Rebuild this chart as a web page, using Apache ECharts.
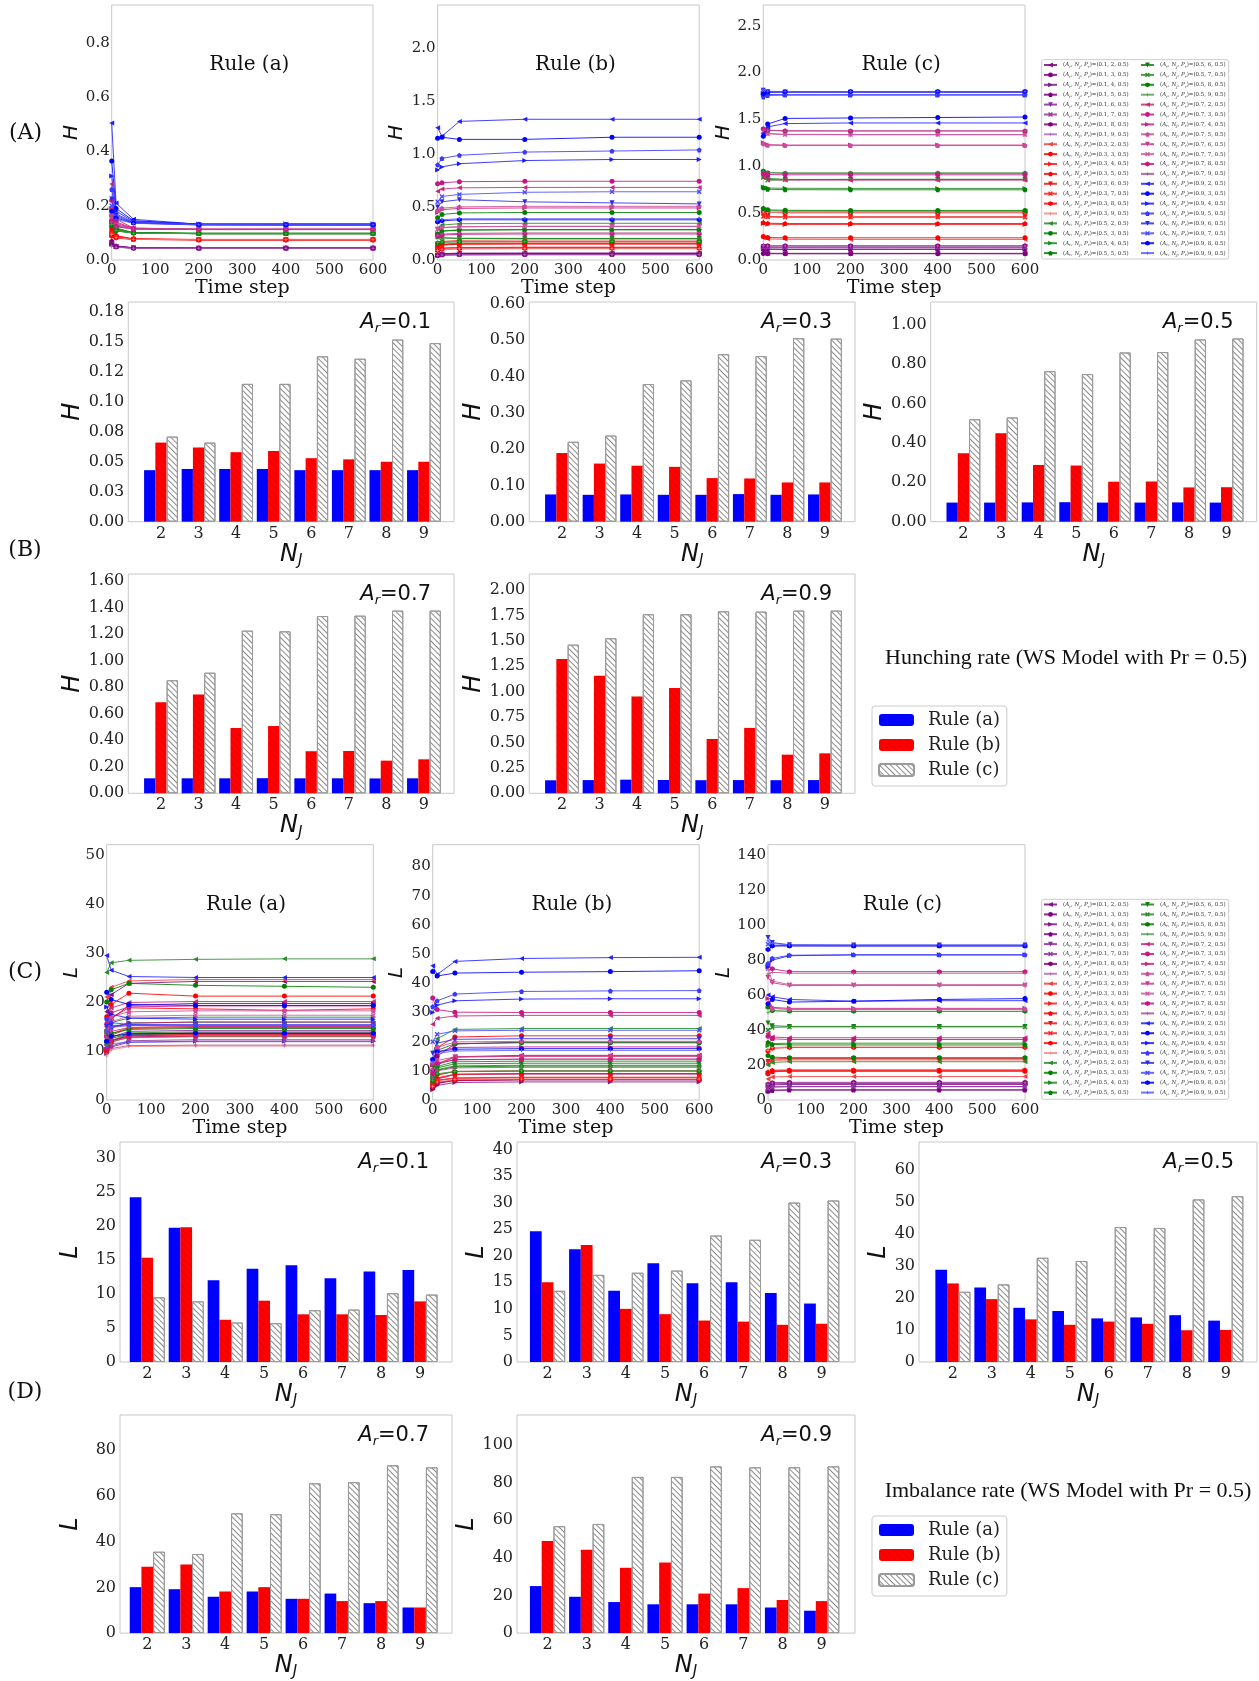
<!DOCTYPE html>
<html>
<head>
<meta charset="utf-8">
<title>Hunching rate and imbalance rate - WS model</title>
<script src="https://cdn.jsdelivr.net/npm/echarts@6/dist/echarts.min.js"></script>
<style>
  html, body { margin: 0; padding: 0; background: #fff; }
  #main { width: 1259px; height: 1681px; }
</style>
</head>
<body>
<div id="main"></div>
<script>
// ---------- data ----------
const timeSteps = [0, 10, 50, 200, 400, 600];
const arList = ['0.1', '0.3', '0.5', '0.7', '0.9'];
const njList = [2, 3, 4, 5, 6, 7, 8, 9];

// H over time, rows: Ar 0.1 N2..9, Ar 0.3 N2..9, Ar 0.5 ..., Ar 0.7 ..., Ar 0.9 ...
const hLineRuleA = [
  [0.062,0.050,0.044,0.043,0.043,0.043],[0.066,0.051,0.045,0.044,0.044,0.044],[0.058,0.049,0.045,0.044,0.044,0.044],[0.070,0.052,0.045,0.044,0.044,0.044],
  [0.054,0.048,0.044,0.043,0.043,0.043],[0.060,0.049,0.044,0.043,0.043,0.043],[0.057,0.048,0.043,0.043,0.043,0.043],[0.052,0.047,0.043,0.043,0.043,0.043],
  [0.105,0.086,0.077,0.075,0.075,0.075],[0.118,0.090,0.078,0.075,0.075,0.075],[0.098,0.084,0.076,0.075,0.075,0.075],[0.110,0.088,0.077,0.075,0.075,0.075],
  [0.092,0.082,0.076,0.074,0.074,0.074],[0.100,0.085,0.077,0.076,0.076,0.076],[0.088,0.081,0.076,0.074,0.074,0.074],[0.095,0.083,0.076,0.075,0.075,0.075],
  [0.150,0.115,0.100,0.097,0.097,0.097],[0.162,0.118,0.101,0.097,0.097,0.097],[0.140,0.112,0.100,0.098,0.098,0.098],[0.135,0.110,0.100,0.099,0.099,0.099],
  [0.128,0.108,0.099,0.097,0.097,0.097],[0.145,0.113,0.100,0.097,0.097,0.097],[0.125,0.107,0.099,0.098,0.098,0.098],[0.132,0.109,0.099,0.097,0.097,0.097],
  [0.280,0.150,0.118,0.113,0.113,0.113],[0.220,0.140,0.117,0.113,0.113,0.113],[0.190,0.135,0.116,0.113,0.113,0.113],[0.170,0.130,0.116,0.114,0.114,0.114],
  [0.160,0.128,0.115,0.113,0.113,0.113],[0.150,0.126,0.115,0.113,0.113,0.113],[0.145,0.124,0.114,0.112,0.112,0.112],[0.140,0.122,0.114,0.113,0.113,0.113],
  [0.505,0.210,0.150,0.132,0.131,0.130],[0.365,0.190,0.145,0.132,0.131,0.131],[0.310,0.180,0.142,0.133,0.134,0.134],[0.260,0.170,0.140,0.131,0.131,0.131],
  [0.225,0.165,0.138,0.130,0.129,0.129],[0.200,0.160,0.137,0.131,0.130,0.130],[0.180,0.155,0.136,0.129,0.129,0.129],[0.165,0.150,0.135,0.130,0.130,0.130]
];
const hLineRuleB = [
  [0.050,0.060,0.065,0.066,0.066,0.066],[0.048,0.056,0.061,0.062,0.062,0.062],[0.046,0.053,0.057,0.058,0.058,0.058],[0.047,0.054,0.058,0.059,0.059,0.059],
  [0.044,0.049,0.052,0.053,0.053,0.053],[0.043,0.048,0.051,0.052,0.052,0.052],[0.042,0.047,0.049,0.050,0.050,0.050],[0.042,0.047,0.049,0.050,0.050,0.050],
  [0.150,0.175,0.186,0.189,0.189,0.189],[0.130,0.150,0.158,0.160,0.160,0.160],[0.125,0.145,0.152,0.154,0.154,0.154],[0.122,0.142,0.149,0.151,0.151,0.151],
  [0.100,0.112,0.118,0.120,0.120,0.120],[0.098,0.111,0.117,0.119,0.119,0.119],[0.090,0.101,0.106,0.108,0.108,0.108],[0.090,0.101,0.106,0.108,0.108,0.108],
  [0.300,0.330,0.343,0.347,0.347,0.347],[0.400,0.430,0.445,0.449,0.449,0.449],[0.250,0.275,0.285,0.288,0.288,0.288],[0.248,0.272,0.282,0.285,0.285,0.285],
  [0.220,0.210,0.204,0.203,0.203,0.203],[0.215,0.208,0.205,0.204,0.204,0.204],[0.160,0.168,0.172,0.174,0.174,0.174],[0.165,0.170,0.173,0.175,0.175,0.175],
  [0.650,0.670,0.682,0.686,0.686,0.686],[0.720,0.730,0.740,0.744,0.744,0.744],[0.450,0.475,0.488,0.492,0.492,0.492],[0.470,0.490,0.502,0.507,0.507,0.507],
  [0.290,0.305,0.313,0.317,0.317,0.317],[0.292,0.307,0.315,0.319,0.319,0.319],[0.225,0.236,0.243,0.246,0.246,0.246],[0.232,0.245,0.252,0.256,0.256,0.256],
  [1.250,1.170,1.310,1.330,1.330,1.330],[1.150,1.160,1.140,1.140,1.160,1.160],[0.850,0.880,0.910,0.940,0.950,0.950],[0.900,0.960,0.990,1.020,1.030,1.040],
  [0.500,0.550,0.570,0.550,0.540,0.530],[0.550,0.600,0.620,0.640,0.645,0.645],[0.360,0.370,0.380,0.380,0.380,0.380],[0.370,0.380,0.390,0.390,0.390,0.390]
];
const hLineRuleC = [
  [0.075,0.072,0.071,0.071,0.071,0.071],[0.070,0.067,0.066,0.066,0.067,0.066],[0.120,0.116,0.115,0.115,0.115,0.115],[0.118,0.116,0.114,0.115,0.115,0.115],
  [0.140,0.138,0.137,0.138,0.137,0.138],[0.135,0.136,0.136,0.136,0.136,0.136],[0.150,0.151,0.152,0.152,0.152,0.152],[0.152,0.150,0.149,0.149,0.149,0.149],
  [0.235,0.225,0.221,0.220,0.220,0.220],[0.250,0.240,0.237,0.237,0.237,0.237],[0.390,0.382,0.379,0.379,0.379,0.379],[0.400,0.392,0.389,0.389,0.389,0.389],
  [0.470,0.463,0.461,0.461,0.461,0.461],[0.465,0.458,0.456,0.456,0.456,0.456],[0.515,0.508,0.505,0.505,0.505,0.505],[0.512,0.506,0.504,0.504,0.504,0.504],
  [0.540,0.525,0.521,0.520,0.520,0.520],[0.550,0.535,0.530,0.529,0.529,0.529],[0.780,0.768,0.765,0.764,0.764,0.764],[0.770,0.755,0.750,0.749,0.749,0.749],
  [0.900,0.870,0.860,0.859,0.859,0.859],[0.880,0.850,0.855,0.861,0.861,0.861],[0.950,0.930,0.925,0.925,0.925,0.925],[0.945,0.935,0.930,0.930,0.930,0.930],
  [0.880,0.860,0.853,0.852,0.852,0.852],[0.920,0.912,0.909,0.909,0.909,0.909],[1.250,1.230,1.226,1.226,1.226,1.226],[1.240,1.225,1.221,1.221,1.221,1.221],
  [1.380,1.350,1.338,1.336,1.336,1.336],[1.370,1.345,1.340,1.339,1.339,1.339],[1.400,1.385,1.378,1.377,1.377,1.377],[1.390,1.382,1.377,1.377,1.377,1.377],
  [1.350,1.420,1.455,1.462,1.462,1.462],[1.320,1.450,1.510,1.515,1.520,1.525],[1.780,1.765,1.762,1.761,1.761,1.761],[1.740,1.755,1.760,1.761,1.761,1.761],
  [1.810,1.795,1.791,1.790,1.790,1.790],[1.800,1.790,1.788,1.787,1.787,1.787],[1.770,1.790,1.796,1.797,1.797,1.797],[1.820,1.800,1.797,1.797,1.797,1.797]
];

// L over time, same row order
const lLineRuleA = [
  [18.0,21.5,23.8,24.2,24.2,24.2],[12.0,16.5,19.3,19.7,19.7,19.7],[9.5,10.8,11.8,12.0,12.0,12.0],[10.0,12.0,13.5,13.7,13.7,13.7],
  [11.0,12.8,14.0,14.2,14.2,14.2],[9.8,11.0,12.1,12.3,12.3,12.3],[10.5,12.0,13.1,13.3,13.3,13.3],[10.2,12.2,13.3,13.5,13.5,13.5],
  [21.0,23.0,24.3,24.6,24.6,24.6],[17.0,19.5,21.8,21.2,21.2,21.2],[10.0,12.0,13.2,13.4,13.4,13.4],[14.0,16.8,18.8,18.6,18.3,18.6],
  [11.0,13.2,14.6,14.8,14.8,14.8],[11.5,13.5,14.8,15.0,15.0,15.0],[10.0,11.8,12.8,13.0,13.0,13.0],[9.0,10.2,10.9,11.0,11.0,11.0],
  [26.0,28.0,28.5,28.7,28.8,28.8],[20.0,22.5,23.8,23.4,23.2,23.0],[14.0,15.8,16.7,16.9,16.9,16.9],[13.0,14.8,15.7,15.9,15.9,15.9],
  [11.0,12.6,13.4,13.6,13.6,13.6],[11.5,12.9,13.7,13.9,13.9,13.9],[12.0,13.6,14.4,14.6,14.6,14.6],[10.5,12.0,12.7,12.9,12.9,12.9],
  [16.5,18.8,19.9,20.1,20.1,20.1],[15.5,17.8,19.0,19.2,19.2,19.2],[13.0,14.8,15.7,15.9,15.9,15.9],[15.0,17.0,18.0,18.2,18.2,18.2],
  [12.5,14.0,14.8,15.0,15.0,15.0],[14.0,16.0,17.1,17.3,17.3,17.3],[10.5,12.2,12.9,13.1,13.1,13.1],[9.5,10.5,11.1,11.2,11.2,11.2],
  [29.5,26.5,25.2,25.0,25.0,25.0],[22.0,20.5,19.5,19.3,19.3,19.3],[19.0,17.5,16.7,16.5,16.5,16.5],[16.5,15.8,15.4,15.3,15.3,15.3],
  [15.0,15.2,15.3,15.3,15.3,15.3],[14.0,14.8,15.2,15.3,15.3,15.3],[12.0,13.0,13.5,13.6,13.6,13.6],[11.0,11.5,11.8,11.9,11.9,11.9]
];
const lLineRuleB = [
  [8.0,12.0,14.8,15.3,15.3,15.3],[10.0,15.0,19.2,19.8,19.8,19.8],[3.5,5.0,6.0,6.2,6.2,6.2],[5.0,7.2,8.8,9.0,9.0,9.0],
  [4.0,5.8,6.8,7.0,7.0,7.0],[4.2,5.9,6.8,7.0,7.0,7.0],[4.0,5.7,6.7,6.9,6.9,6.9],[5.0,7.2,8.7,8.9,8.9,8.9],
  [8.5,12.5,14.7,15.0,15.0,15.0],[12.0,18.0,21.6,22.0,22.0,22.0],[6.0,8.5,9.8,10.0,10.0,10.0],[5.5,7.6,8.8,9.0,9.0,9.0],
  [5.0,6.8,7.6,7.8,7.8,7.8],[4.8,6.6,7.4,7.6,7.6,7.6],[4.5,6.0,6.8,7.0,7.0,7.0],[4.6,6.2,7.0,7.2,7.2,7.2],
  [14.0,21.0,24.2,24.5,24.5,24.5],[12.0,17.0,19.3,19.6,19.6,19.6],[8.0,11.5,13.1,13.3,13.3,13.3],[7.5,10.2,11.4,11.6,11.6,11.6],
  [8.0,11.0,12.4,12.6,12.6,12.6],[7.6,10.4,11.7,11.9,11.9,11.9],[6.5,8.8,9.7,9.9,9.9,9.9],[6.8,9.0,9.8,10.0,10.0,10.0],
  [26.0,28.0,28.8,29.0,29.0,29.0],[35.0,31.0,30.1,30.0,30.0,30.0],[12.0,16.5,18.0,18.2,18.2,18.2],[13.0,18.0,19.9,20.1,20.1,20.1],
  [10.0,13.5,14.8,15.0,15.0,15.0],[9.0,12.5,13.8,14.0,14.0,14.0],[9.0,12.5,13.8,14.0,14.0,14.0],[7.5,10.0,11.0,11.2,11.2,11.2],
  [46.0,43.0,47.5,48.5,48.8,48.9],[44.0,42.5,43.5,43.8,44.0,44.3],[30.0,32.5,34.0,34.6,34.7,34.7],[32.0,34.0,36.3,37.2,37.4,37.5],
  [16.0,19.5,20.8,21.0,21.0,21.0],[20.0,22.5,23.7,23.9,23.9,23.9],[14.0,16.5,17.4,17.6,17.6,17.6],[13.0,16.0,16.8,17.0,17.0,17.0]
];
const lLineRuleC = [
  [8.0,9.2,9.5,9.5,9.5,9.5],[7.5,8.6,8.9,8.9,8.9,8.9],[5.0,5.6,5.8,5.8,5.8,5.8],[5.0,5.5,5.7,5.7,5.7,5.7],
  [6.5,7.4,7.6,7.6,7.6,7.6],[6.6,7.5,7.7,7.7,7.7,7.7],[9.0,9.9,10.1,10.1,10.1,10.1],[8.8,9.7,9.9,9.9,9.9,9.9],
  [12.0,13.2,13.4,13.4,13.4,13.4],[15.0,16.2,16.4,16.4,16.4,16.4],[15.5,16.6,16.8,16.8,16.8,16.8],[16.0,17.0,17.2,17.2,17.2,17.2],
  [22.0,23.5,23.8,23.8,23.8,23.8],[21.5,22.8,23.0,23.0,23.0,23.0],[28.0,29.6,30.0,30.0,30.0,30.0],[28.5,30.0,30.4,30.4,30.4,30.4],
  [20.0,21.5,21.9,21.9,21.9,21.9],[25.5,24.5,24.2,24.2,24.2,24.2],[31.0,32.2,32.5,32.5,32.5,32.5],[33.0,31.8,31.5,31.5,31.5,31.5],
  [44.0,42.5,42.1,42.1,42.1,42.1],[40.0,41.5,41.8,41.8,41.8,41.8],[53.0,51.0,50.7,50.7,50.7,50.7],[50.0,51.2,51.7,51.7,51.7,51.7],
  [38.0,36.0,35.6,35.6,35.6,35.6],[36.5,35.0,34.6,34.6,34.6,34.6],[58.0,53.0,52.4,52.4,52.4,52.4],[55.0,52.5,52.0,52.0,52.0,52.0],
  [70.0,67.0,65.5,65.5,65.5,65.5],[75.0,68.0,66.0,66.0,66.0,66.0],[77.0,75.0,73.4,73.4,73.4,73.4],[72.0,73.0,72.5,72.5,72.5,72.5],
  [60.0,59.0,57.5,56.5,56.8,56.8],[55.0,57.5,56.0,56.5,57.5,58.0],[76.0,80.0,82.5,83.0,83.0,83.0],[78.0,81.0,82.8,83.0,83.0,83.0],
  [93.0,90.0,88.8,88.6,88.6,88.6],[89.0,88.5,88.2,88.1,88.1,88.1],[86.0,88.0,88.1,88.1,88.1,88.1],[91.0,89.5,88.6,88.6,88.6,88.6]
];

// bar values, one row per Ar (0.1, 0.3, 0.5, 0.7, 0.9), columns N_J = 2..9
const hBarRuleA = [
  [0.043,0.044,0.044,0.044,0.043,0.043,0.043,0.043],
  [0.075,0.074,0.075,0.074,0.074,0.076,0.074,0.075],
  [0.097,0.097,0.098,0.099,0.097,0.097,0.098,0.097],
  [0.113,0.113,0.113,0.114,0.113,0.113,0.112,0.113],
  [0.128,0.130,0.134,0.131,0.129,0.130,0.129,0.130]
];
const hBarRuleB = [
  [0.066,0.062,0.058,0.059,0.053,0.052,0.050,0.050],
  [0.189,0.160,0.154,0.151,0.120,0.119,0.108,0.108],
  [0.347,0.449,0.288,0.285,0.203,0.204,0.174,0.175],
  [0.686,0.744,0.492,0.507,0.317,0.319,0.246,0.256],
  [1.321,1.157,0.951,1.036,0.534,0.643,0.380,0.393]
];
const hBarRuleC = [
  [0.071,0.066,0.115,0.115,0.138,0.136,0.152,0.149],
  [0.220,0.237,0.379,0.389,0.461,0.456,0.505,0.504],
  [0.520,0.529,0.764,0.749,0.859,0.861,0.925,0.930],
  [0.852,0.909,1.226,1.221,1.336,1.339,1.377,1.377],
  [1.462,1.525,1.761,1.761,1.790,1.787,1.797,1.797]
];
const lBarRuleA = [
  [24.2,19.7,12.0,13.7,14.2,12.3,13.3,13.5],
  [24.6,21.2,13.4,18.6,14.8,15.0,13.0,11.0],
  [28.8,23.2,16.9,15.9,13.6,13.9,14.6,12.9],
  [20.1,19.2,15.9,18.2,15.0,17.3,13.1,11.2],
  [25.0,19.3,16.5,15.3,15.3,15.3,13.6,11.9]
];
const lBarRuleB = [
  [15.3,19.8,6.2,9.0,7.0,7.0,6.9,8.9],
  [15.0,22.0,10.0,9.0,7.8,7.6,7.0,7.2],
  [24.5,19.6,13.3,11.6,12.6,11.9,9.9,10.0],
  [29.0,30.0,18.2,20.1,15.0,14.0,14.0,11.2],
  [48.9,44.3,34.7,37.5,21.0,23.9,17.6,17.0]
];
const lBarRuleC = [
  [9.5,8.9,5.8,5.7,7.6,7.7,10.1,9.9],
  [13.4,16.4,16.8,17.2,23.8,23.0,30.0,30.4],
  [21.9,24.2,32.5,31.5,42.1,41.8,50.7,51.7],
  [35.6,34.6,52.4,52.0,65.5,66.0,73.4,72.5],
  [56.8,58.0,83.0,83.0,88.6,88.1,88.1,88.6]
];

// tick labels
const hLineTicks = [['0.0','0.2','0.4','0.6','0.8'], ['0.0','0.5','1.0','1.5','2.0'], ['0.0','0.5','1.0','1.5','2.0','2.5']];
const lLineTicks = [['0','10','20','30','40','50'], ['0','10','20','30','40','50','60','70','80'], ['0','20','40','60','80','100','120','140']];
const timeTicks = ['0','100','200','300','400','500','600'];
const hBarTicks = [
  ['0.00','0.03','0.05','0.08','0.10','0.12','0.15','0.18'],
  ['0.00','0.10','0.20','0.30','0.40','0.50','0.60'],
  ['0.00','0.20','0.40','0.60','0.80','1.00'],
  ['0.00','0.20','0.40','0.60','0.80','1.00','1.20','1.40','1.60'],
  ['0.00','0.25','0.50','0.75','1.00','1.25','1.50','1.75','2.00']
];
const lBarTicks = [
  ['0','5','10','15','20','25','30'],
  ['0','5','10','15','20','25','30','35','40'],
  ['0','10','20','30','40','50','60'],
  ['0','20','40','60','80'],
  ['0','20','40','60','80','100']
];

// ---------- layout / style ----------
const hLineAxis = [{max: 0.94, step: 0.2}, {max: 2.41, step: 0.5}, {max: 2.72, step: 0.5}];
const lLineAxis = [{max: 52.1, step: 10}, {max: 87.5, step: 10}, {max: 146, step: 20}];
const hBarAxis = [{max: 0.1833, step: 0.025}, {max: 0.6047, step: 0.1}, {max: 1.115, step: 0.2}, {max: 1.653, step: 0.2}, {max: 2.157, step: 0.25}];
const lBarAxis = [{max: 32.3, step: 5}, {max: 41.4, step: 5}, {max: 68.6, step: 10}, {max: 95.4, step: 20}, {max: 115.9, step: 20}];

const lineGridsH = [
  {left: 111.7, top: 5, width: 261.3, height: 255, gap: 29},
  {left: 437.6, top: 5, width: 261.6, height: 255, gap: 31},
  {left: 763.3, top: 5, width: 261.7, height: 255, gap: 27}
];
const lineGridsL = [
  {left: 106.7, top: 844.7, width: 266.6, height: 255.3, gap: 22},
  {left: 432.7, top: 844.7, width: 266.5, height: 255.3, gap: 26},
  {left: 768, top: 844.7, width: 257, height: 255.3, gap: 32}
];
const barGridsH = [
  {left: 128.3, top: 302, width: 325.7, height: 219.7, gap: 42, xMin: 1.13, xMax: 9.8},
  {left: 529.3, top: 302, width: 325.7, height: 219.7, gap: 42, xMin: 1.13, xMax: 9.8},
  {left: 930.7, top: 302, width: 326, height: 219.7, gap: 42, xMin: 1.13, xMax: 9.8},
  {left: 128.3, top: 574, width: 325.7, height: 219.3, gap: 40, xMin: 1.13, xMax: 9.8},
  {left: 529.3, top: 574, width: 325.7, height: 219.3, gap: 41, xMin: 1.13, xMax: 9.8}
];
const barGridsL = [
  {left: 120, top: 1142, width: 332, height: 220, gap: 37, xMin: 1.3, xMax: 9.82},
  {left: 517, top: 1142, width: 338, height: 220, gap: 23, xMin: 1.22, xMax: 9.85},
  {left: 919, top: 1142, width: 338, height: 220, gap: 24, xMin: 1.13, xMax: 9.8},
  {left: 120, top: 1415, width: 332, height: 219.5, gap: 37, xMin: 1.3, xMax: 9.82},
  {left: 517, top: 1415, width: 338, height: 219.5, gap: 26, xMin: 1.22, xMax: 9.85}
];

const lineColors = [
  ['#7b0d80','#800080','#7a1a8a','#800080','#8a2a9a','#8e3a9e','#800080','#b06cb8'],
  ['#f04040','#ff0000','#ff1a1a','#ff0000','#f01010','#ff2020','#ff0000','#f08a8a'],
  ['#2a8a2a','#008000','#1a8a1a','#008000','#108010','#2a8a2a','#008000','#5aa05a'],
  ['#c8287a','#c71585','#c8207f','#d04a9c','#c83a90','#c85aa0','#c71585','#b0508f'],
  ['#2020ff','#0000ff','#1a1aff','#3a3aff','#2a2ae8','#4a4aff','#0000ff','#5a5aff']
];
const markers = [
  'path://M0,5L10,0L10,10Z',
  'circle',
  'path://M10,5L0,0L0,10Z',
  'path://M5,0L10,3.8L8.1,10L1.9,10L0,3.8Z',
  'path://M0,0L10,0L5,10Z',
  'path://M0,2L2,0L5,3L8,0L10,2L7,5L10,8L8,10L5,7L2,10L0,8L3,5Z',
  'path://M5,0L9.3,2.5L9.3,7.5L5,10L0.7,7.5L0.7,2.5Z',
  'path://M5,0L6,4L10,5L6,6L5,10L4,6L0,5L4,4Z'
];

const serif = 'DejaVu Serif';
const sans = 'DejaVu Sans';

function seriesName(a, n) {
  return '(Ar, Nj, Pr)=(' + arList[a] + ', ' + njList[n] + ', 0.5)';
}
const allNames = [];
arList.forEach((_, a) => njList.forEach((_, n) => allNames.push(seriesName(a, n))));

function tickFormatter(labels, step) {
  return function (v) {
    const k = Math.round(v / step);
    if (Math.abs(k * step - v) > step * 1e-6) return '';
    return labels[k] !== undefined ? labels[k] : '';
  };
}

const grids = [], xAxes = [], yAxes = [], series = [];

function addGrid(g) {
  grids.push({left: g.left, top: g.top, width: g.width, height: g.height, show: true,
    borderColor: '#c8c8c8', borderWidth: 1, backgroundColor: 'transparent', containLabel: false});
  return grids.length - 1;
}

const hiddenAxisParts = {axisLine: {show: false}, axisTick: {show: false}, splitLine: {show: false}};

function addLinePanel(g, rows, ax, ticks, yName) {
  const idx = addGrid(g);
  xAxes.push(Object.assign({
    gridIndex: idx, type: 'value', min: 0, max: 600, interval: 100,
    name: 'Time step', nameLocation: 'middle', nameGap: 14,
    nameTextStyle: {fontFamily: serif, fontSize: 19, color: '#111'},
    axisLabel: {margin: 3, fontFamily: serif, fontSize: 15, color: '#222',
      formatter: tickFormatter(timeTicks, 100)}
  }, hiddenAxisParts));
  yAxes.push(Object.assign({
    gridIndex: idx, type: 'value', min: 0, max: ax.max, interval: ax.step,
    name: yName, nameLocation: 'middle', nameGap: g.gap,
    nameTextStyle: {fontFamily: sans, fontStyle: 'italic', fontSize: 20, color: '#111'},
    axisLabel: {margin: 2, fontFamily: serif, fontSize: 15, color: '#222',
      formatter: tickFormatter(ticks, ax.step)}
  }, hiddenAxisParts));
  rows.forEach((row, k) => {
    const a = Math.floor(k / 8), n = k % 8;
    const c = lineColors[a][n];
    series.push({
      type: 'line', name: seriesName(a, n), xAxisIndex: idx, yAxisIndex: idx,
      data: timeSteps.map((t, i) => [t, row[i]]),
      symbol: markers[n], symbolSize: 5, showSymbol: true,
      lineStyle: {width: 1, color: c, opacity: 0.85},
      itemStyle: {color: c},
      silent: true
    });
  });
}

const ruleStyles = [
  {name: 'Rule (a)', itemStyle: {color: '#0000ff'}},
  {name: 'Rule (b)', itemStyle: {color: '#ff0000',
    decal: {symbol: 'rect', color: 'rgba(120,0,0,0.18)', dashArrayX: [1, 0], dashArrayY: [1, 4], rotation: Math.PI / 4}}},
  {name: 'Rule (c)', itemStyle: {color: '#ffffff', borderColor: '#9a9a9a', borderWidth: 1,
    decal: {symbol: 'rect', color: '#8a8a8a', dashArrayX: [1, 0], dashArrayY: [1, 3], rotation: Math.PI / 4}}}
];

function addBarPanel(g, ruleRows, ax, ticks, yName) {
  const idx = addGrid(g);
  xAxes.push(Object.assign({
    gridIndex: idx, type: 'value', min: g.xMin, max: g.xMax,
    name: '{n|N}{j|J}', nameLocation: 'middle', nameGap: 16,
    nameTextStyle: {rich: {
      n: {fontFamily: sans, fontStyle: 'italic', fontSize: 24, color: '#111', lineHeight: 28},
      j: {fontFamily: sans, fontStyle: 'italic', fontSize: 15, color: '#111', lineHeight: 16, verticalAlign: 'bottom'}
    }},
    axisLabel: {customValues: njList, margin: 4, fontFamily: serif, fontSize: 16, color: '#222',
      formatter: v => String(v)}
  }, hiddenAxisParts));
  yAxes.push(Object.assign({
    gridIndex: idx, type: 'value', min: 0, max: ax.max, interval: ax.step,
    name: yName, nameLocation: 'middle', nameGap: g.gap,
    nameTextStyle: {fontFamily: sans, fontStyle: 'italic', fontSize: 24, color: '#111'},
    axisLabel: {margin: 4, fontFamily: serif, fontSize: 16, color: '#222',
      formatter: tickFormatter(ticks, ax.step)}
  }, hiddenAxisParts));
  ruleRows.forEach((vals, r) => {
    series.push({
      type: 'bar', name: ruleStyles[r].name, xAxisIndex: idx, yAxisIndex: idx,
      data: njList.map((n, i) => [n, vals[i]]),
      barWidth: '30%', barGap: '0%',
      itemStyle: ruleStyles[r].itemStyle,
      silent: true
    });
  });
}

lineGridsH.forEach((g, i) => addLinePanel(g, [hLineRuleA, hLineRuleB, hLineRuleC][i], hLineAxis[i], hLineTicks[i], 'H'));
barGridsH.forEach((g, i) => addBarPanel(g, [hBarRuleA[i], hBarRuleB[i], hBarRuleC[i]], hBarAxis[i], hBarTicks[i], 'H'));
lineGridsL.forEach((g, i) => addLinePanel(g, [lLineRuleA, lLineRuleB, lLineRuleC][i], lLineAxis[i], lLineTicks[i], 'L'));
barGridsL.forEach((g, i) => addBarPanel(g, [lBarRuleA[i], lBarRuleB[i], lBarRuleC[i]], lBarAxis[i], lBarTicks[i], 'L'));

// legends
function lineLegend(names, left, top) {
  return {
    data: names, left: left, top: top, orient: 'vertical', padding: 0,
    itemWidth: 13, itemHeight: 6, itemGap: 1.9, selectedMode: false,
    textStyle: {fontFamily: serif, fontSize: 5.5, lineHeight: 8, color: '#333', padding: [0, 0, 0, 1],
      rich: {
        i: {fontFamily: serif, fontStyle: 'italic', fontSize: 5.5, color: '#333'},
        s: {fontFamily: serif, fontStyle: 'italic', fontSize: 4, color: '#333', verticalAlign: 'bottom', lineHeight: 6}
      }},
    formatter: name => '({i|A}{s|r}, {i|N}{s|j}, {i|P}{s|r})' + name.substring(name.indexOf('='))
  };
}
function barLegend(top) {
  return {
    data: ['Rule (a)', 'Rule (b)', 'Rule (c)'], left: 872, top: top, orient: 'vertical',
    padding: [4, 6, 6, 6], itemWidth: 35, itemHeight: 12, itemGap: 5, selectedMode: false,
    borderColor: '#cccccc', borderWidth: 1, borderRadius: 3,
    textStyle: {fontFamily: serif, fontSize: 18, lineHeight: 20, color: '#222', padding: [0, 0, 0, 9]}
  };
}
const legends = [
  lineLegend(allNames.slice(0, 20), 1043, 61),
  lineLegend(allNames.slice(20), 1140, 61),
  lineLegend(allNames.slice(0, 20), 1043, 900.5),
  lineLegend(allNames.slice(20), 1140, 900.5),
  barLegend(706),
  barLegend(1516)
];

// texts
function txt(text, x, y, font, align) {
  return {type: 'text', x: x, y: y, silent: true,
    style: {text: text, font: font, fill: '#111', textAlign: align || 'center', textVerticalAlign: 'middle'}};
}
function arText(ar, g) {
  return {type: 'text', x: g.left + g.width - 23, y: g.top + 21, silent: true,
    style: {text: '{a|A}{r|r}{b|=' + ar + '}', textAlign: 'right', textVerticalAlign: 'middle',
      rich: {
        a: {fontFamily: sans, fontStyle: 'italic', fontSize: 21, fill: '#111', lineHeight: 24},
        r: {fontFamily: sans, fontStyle: 'italic', fontSize: 13, fill: '#111', lineHeight: 14, verticalAlign: 'bottom'},
        b: {fontFamily: sans, fontSize: 21, fill: '#111', lineHeight: 24}
      }}};
}
const graphics = [
  {type: 'rect', shape: {x: 1041.7, y: 59.7, width: 187, height: 199.3, r: 2}, style: {fill: '#fff', stroke: '#cccccc', lineWidth: 1}, silent: true},
  {type: 'rect', shape: {x: 1041.7, y: 899.3, width: 187, height: 200, r: 2}, style: {fill: '#fff', stroke: '#cccccc', lineWidth: 1}, silent: true},
  txt('(A)', 25.5, 133, '22px ' + serif),
  txt('(B)', 25, 550, '22px ' + serif),
  txt('(C)', 25, 972.7, '22px ' + serif),
  txt('(D)', 25, 1392, '22px ' + serif),
  txt('Hunching rate (WS Model with Pr = 0.5)', 1066, 658, '22px Liberation Serif'),
  txt('Imbalance rate (WS Model with Pr = 0.5)', 1068, 1491, '22px Liberation Serif')
];
['Rule (a)', 'Rule (b)', 'Rule (c)'].forEach((r, i) => {
  const gh = lineGridsH[i], gl = lineGridsL[i];
  graphics.push(txt(r, gh.left + gh.width / 2 + 7, gh.top + 60, '20px ' + serif));
  graphics.push(txt(r, gl.left + gl.width / 2 + 6, gl.top + 60, '20px ' + serif));
});
barGridsH.forEach((g, i) => graphics.push(arText(arList[i], g)));
barGridsL.forEach((g, i) => graphics.push(arText(arList[i], g)));

const chart = echarts.init(document.getElementById('main'));
chart.setOption({
  animation: false,
  backgroundColor: '#ffffff',
  grid: grids,
  xAxis: xAxes,
  yAxis: yAxes,
  legend: legends,
  graphic: graphics,
  series: series
});
</script>
</body>
</html>
